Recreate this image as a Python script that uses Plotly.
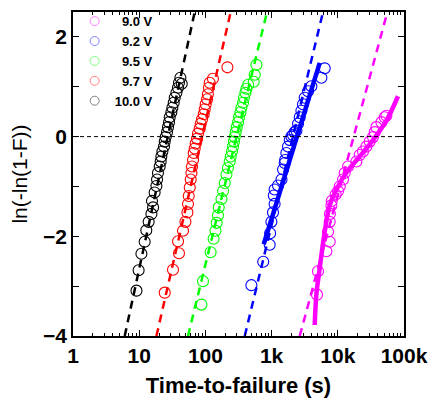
import plotly.graph_objects as go

# ---------------- data ----------------
labels = ["\u00a0\u00a09.0 V", "\u00a0\u00a09.2 V", "\u00a0\u00a09.5 V", "\u00a0\u00a09.7 V", "10.0 V"]
colors = ["#FF00FF", "#0000FF", "#00FF00", "#FF0000", "#000000"]
legend_colors = ["#FF80FF", "#8080FF", "#80FF80", "#FF8080", "#808080"]

t_100 = [9.1, 9.8, 10.8, 12.1, 12.8, 13.9, 15.3, 16.2, 15.6, 17.1, 18.2, 18.6, 19.2, 20.4, 21.1,
         21.6, 22.4, 23.7, 24.3, 25.1, 26.3, 27.2, 28.2, 28.9, 30.6, 31.7, 33.2, 34.4, 36.5,
         38.5, 39.9, 41.9, 43.9]
y_100 = [-3.09, -2.68, -2.35, -2.11, -1.88, -1.71, -1.55, -1.42, -1.29, -1.12, -0.99, -0.86,
         -0.73, -0.60, -0.50, -0.40, -0.30, -0.20, -0.10, -0.01, 0.09, 0.19, 0.29, 0.39, 0.49,
         0.58, 0.68, 0.78, 0.88, 0.98, 1.08, 1.18, 1.06]

t_97 = [24.3, 32.4, 39.9, 38.6, 45.9, 49.9, 53.5, 54.6, 56.0, 58.0, 60.0, 61.5, 62.8, 65.0, 66.6,
        68.9, 71.3, 74.6, 77.3, 82.0, 84.9, 88.9, 94.3, 97.6, 101, 106, 109, 113, 116, 130, 215]
y_97 = [-3.13, -2.67, -2.34, -2.10, -1.89, -1.71, -1.52, -1.35, -1.19, -1.02, -0.86, -0.73,
        -0.60, -0.47, -0.33, -0.24, -0.14, -0.04, 0.06, 0.16, 0.26, 0.35, 0.45, 0.55, 0.65,
        0.75, 0.85, 0.98, 1.08, 1.16, 1.39]

t_95 = [87.1, 92.0, 120, 133, 142, 148, 155, 159, 175, 185, 196, 208, 219, 233, 241, 252, 261,
        270, 277, 287, 297, 311, 322, 338, 350, 370, 383, 402, 416, 443, 537, 556, 589]
y_95 = [-3.37, -2.90, -2.32, -2.05, -1.89, -1.73, -1.58, -1.42, -1.25, -1.09, -0.93, -0.76,
        -0.63, -0.50, -0.40, -0.30, -0.20, -0.10, -0.01, 0.09, 0.19, 0.29, 0.39, 0.49, 0.58,
        0.68, 0.78, 0.88, 0.96, 1.04, 1.10, 1.24, 1.44]

t_92 = [495, 747, 936, 950, 993, 1050, 1110, 1080, 1110, 1250, 1410, 1490, 1580, 1600, 1670,
        1770, 1880, 1990, 2100, 2230, 2370, 2510, 2660, 2820, 2980, 3160, 3550, 3990, 5650, 6340]
y_92 = [-2.98, -2.51, -2.17, -1.94, -1.71, -1.52, -1.35, -1.18, -1.06, -0.98, -0.86, -0.66,
        -0.53, -0.47, -0.33, -0.20, -0.07, 0.00, 0.03, 0.09, 0.12, 0.26, 0.39, 0.52, 0.65,
        0.78, 0.91, 1.01, 1.18, 1.37]

t_90 = [4850, 5020, 6730, 7550, 7120, 7550, 7600, 8000, 8100, 9290, 10100, 10700, 12000, 12700,
        14300, 19100, 21400, 24000, 27000, 30300, 34000, 36100, 38300, 45600, 51100, 54200]
y_90 = [-3.17, -2.70, -2.30, -2.11, -1.91, -1.71, -1.55, -1.38, -1.29, -1.16, -1.09, -1.00,
        -0.86, -0.73, -0.60, -0.50, -0.37, -0.30, -0.20, -0.10, -0.01, 0.09, 0.19, 0.29, 0.39, 0.42]

# dashed straight fits (end points, bottom -> top of the frame)
fit_t = [[2660, 56100], [393, 5980], [54.6, 852], [18.2, 241], [6.04, 68.9]]
fit_y = [-4.0, 2.5]

# solid fits
solid92_t = [760, 5330]
solid92_y = [-2.16, 1.48]
solid90_t = [4480, 4750, 5330, 6340, 7550, 9530, 13500, 21400, 34000, 54200, 81200]
solid90_y = [-3.78, -3.16, -2.64, -1.91, -1.38, -1.06, -0.72, -0.40, -0.07, 0.32, 0.81]

x_tickvals = [1, 10, 100, 1000, 10000, 100000]
x_ticktext = ["1", "10", "100", "1k", "10k", "100k"]
x_minor = [m * 10 ** d for d in range(5) for m in range(2, 10)]
y_tickvals = [-4, -2, 0, 2]

series_t = [t_90, t_92, t_95, t_97, t_100]
series_y = [y_90, y_92, y_95, y_97, y_100]

# ---------------- figure ----------------
fig = go.Figure()
FONT = "Liberation Sans, Arial, sans-serif"

for i in range(5):
    fig.add_trace(go.Scatter(x=fit_t[i], y=fit_y, mode="lines",
                             line=dict(color=colors[i], width=2.5, dash="8px,6px"),
                             showlegend=False, hoverinfo="skip"))

fig.add_trace(go.Scatter(x=solid92_t, y=solid92_y, mode="lines",
                         line=dict(color=colors[1], width=4.5), showlegend=False))
fig.add_trace(go.Scatter(x=solid90_t, y=solid90_y, mode="lines", line_shape="spline",
                         line=dict(color=colors[0], width=4.5), showlegend=False))

for i in range(5):
    fig.add_trace(go.Scatter(x=series_t[i], y=series_y[i], mode="markers", showlegend=False,
                             marker=dict(symbol="circle-open", size=11, color=colors[i],
                                         line=dict(width=1.1, color=colors[i]))))

# legend entries (no data of their own)
for i in range(5):
    fig.add_trace(go.Scatter(x=[None], y=[None], mode="markers", name=labels[i],
                             marker=dict(symbol="circle-open", size=9, color=legend_colors[i],
                                         line=dict(width=1, color=legend_colors[i]))))

fig.add_hline(y=0, line=dict(color="black", width=1, dash="4px,3px"))

axis_common = dict(showline=True, linecolor="black", linewidth=1.5, mirror="allticks",
                   ticks="inside", tickcolor="black", tickwidth=1.2, ticklen=6,
                   showgrid=False, zeroline=False,
                   tickfont=dict(family=FONT, size=21, color="black", weight="bold"))

fig.update_xaxes(type="log", range=[0, 5], tickvals=x_tickvals, ticktext=x_ticktext,
                 minor=dict(tickvals=x_minor, ticks="inside", ticklen=3, tickcolor="black",
                            tickwidth=1),
                 title=dict(text="Time-to-failure (s)", standoff=12,
                            font=dict(family=FONT, size=22, color="black", weight="bold")),
                 **axis_common)
fig.update_yaxes(range=[-4, 2.5], tickvals=y_tickvals,
                 minor=dict(dtick=1, tick0=0, ticks="inside", ticklen=6, tickcolor="black",
                            tickwidth=1),
                 title=dict(text="ln(-ln(1-F))", standoff=10,
                            font=dict(family=FONT, size=21, color="black")),
                 **axis_common)

fig.update_layout(
    width=434, height=403,
    margin=dict(l=73, r=30, t=6, b=67),
    paper_bgcolor="white", plot_bgcolor="white",
    legend=dict(x=0.005, y=1.018, xanchor="left", yanchor="top", bgcolor="rgba(0,0,0,0)",
                font=dict(family=FONT, size=13, color="black", weight="bold"),
                tracegroupgap=0, itemwidth=30),
    font=dict(family=FONT),
)

fig.write_html("out.html", config={"displayModeBar": False},
               post_script="document.body.style.margin='0';")
